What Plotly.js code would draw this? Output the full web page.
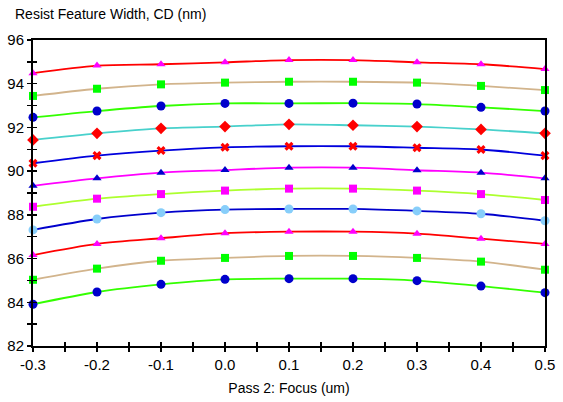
<!DOCTYPE html>
<html>
<head>
<meta charset="utf-8">
<script src="https://cdn.plot.ly/plotly-3.0.1.min.js"></script>
<style>html,body{margin:0;padding:0;background:#fff;}#chart{width:563px;height:402px;}</style>
</head>
<body>
<div id="chart"></div>
<script>
var focus = [-0.3, -0.2, -0.1, 0.0, 0.1, 0.2, 0.3, 0.4, 0.5];

var cd1  = [94.48, 94.83, 94.89, 94.98, 95.08, 95.08, 94.98, 94.89, 94.67];
var cd2  = [93.44, 93.77, 93.97, 94.05, 94.09, 94.09, 94.05, 93.90, 93.71];
var cd3  = [92.46, 92.75, 92.98, 93.10, 93.10, 93.11, 93.07, 92.92, 92.75];
var cd4  = [91.43, 91.73, 91.96, 92.04, 92.14, 92.10, 92.04, 91.91, 91.73];
var cd5  = [90.36, 90.71, 90.94, 91.09, 91.14, 91.14, 91.07, 90.99, 90.71];
var cd6  = [89.33, 89.67, 89.93, 90.05, 90.16, 90.16, 90.04, 89.93, 89.67];
var cd7  = [88.37, 88.74, 88.95, 89.11, 89.20, 89.20, 89.11, 88.95, 88.68];
var cd8  = [87.31, 87.81, 88.10, 88.24, 88.27, 88.27, 88.18, 88.05, 87.73];
var cd9  = [86.16, 86.67, 86.93, 87.16, 87.23, 87.23, 87.14, 86.91, 86.67];
var cd10 = [85.03, 85.54, 85.90, 86.03, 86.12, 86.12, 86.03, 85.86, 85.49];
var cd11 = [83.91, 84.47, 84.82, 85.05, 85.08, 85.08, 84.99, 84.74, 84.44];

var series = [cd1, cd2, cd3, cd4, cd5, cd6, cd7, cd8, cd9, cd10, cd11];
var lineColors = ['#ff0000', '#d2b48c', '#33ff00', '#48d1cc', '#0000dd', '#ff00ff', '#adff2f', '#0000cc', '#ff0000', '#d2b48c', '#33ff00'];
var markerColors = ['#ff00ff', '#00ff00', '#0000cc', '#ff0000', '#ff0000', '#0000cc', '#ff00ff', '#87cefa', '#ff00ff', '#00ff00', '#0000cc'];
var markerSymbols = ['triangle-up', 'square', 'circle', 'diamond', 'x', 'triangle-up', 'square', 'circle', 'triangle-up', 'square', 'circle'];
var markerSizes = [8, 8, 9, 9, 8, 8, 8, 9, 8, 8, 9];

var yTickVals = [82, 83, 84, 85, 86, 87, 88, 89, 90, 91, 92, 93, 94, 95, 96];
var yTickText = ['82', '', '84', '', '86', '', '88', '', '90', '', '92', '', '94', '', '96'];
var xTickVals = [-0.3, -0.25, -0.2, -0.15, -0.1, -0.05, 0.0, 0.05, 0.1, 0.15, 0.2, 0.25, 0.3, 0.35, 0.4, 0.45, 0.5];
var xTickText = ['-0.3', '', '-0.2', '', '-0.1', '', '0.0', '', '0.1', '', '0.2', '', '0.3', '', '0.4', '', '0.5'];

var traces = [];
series.forEach(function (s, i) {
  traces.push({
    x: focus, y: s, type: 'scatter', mode: 'lines',
    line: {color: lineColors[i], width: 1.8, shape: 'spline', smoothing: 0.8},
    hoverinfo: 'skip', showlegend: false, cliponaxis: false
  });
});
series.forEach(function (s, i) {
  traces.push({
    x: focus, y: s, type: 'scatter', mode: 'markers',
    marker: {color: markerColors[i], symbol: markerSymbols[i], size: markerSizes[i], line: {width: 0}},
    showlegend: false, cliponaxis: false
  });
});
// invisible trace to create overlay axes for crossing ticks
traces.push({x: [0], y: [89], xaxis: 'x2', yaxis: 'y2', mode: 'markers', marker: {opacity: 0}, hoverinfo: 'skip', showlegend: false});

var font = {family: 'Liberation Sans, Arial, sans-serif', color: '#000'};

var layout = {
  width: 563, height: 402,
  margin: {l: 33, r: 18, t: 40, b: 56},
  paper_bgcolor: '#fff', plot_bgcolor: '#fff',
  font: {family: font.family, size: 15, color: '#000'},
  showlegend: false,
  xaxis: {
    range: [-0.3, 0.5], showgrid: false, zeroline: false,
    showline: true, linecolor: '#000', linewidth: 2, mirror: true,
    ticks: 'outside', ticklen: 4, tickwidth: 1.5, tickcolor: '#000',
    tickvals: xTickVals, ticktext: xTickText,
    tickfont: {family: font.family, size: 15, color: '#000'},
    title: {text: 'Pass 2: Focus (um)', font: {family: font.family, size: 14, color: '#000'}, standoff: 11}
  },
  yaxis: {
    range: [82, 96], showgrid: false, zeroline: false,
    showline: true, linecolor: '#000', linewidth: 2, mirror: true,
    ticks: 'outside', ticklen: 4, tickwidth: 1.5, tickcolor: '#000',
    tickvals: yTickVals, ticktext: yTickText,
    tickfont: {family: font.family, size: 15, color: '#000'}
  },
  xaxis2: {
    overlaying: 'x', anchor: 'y2', side: 'bottom', range: [-0.3, 0.5],
    showgrid: false, zeroline: false, showline: false,
    ticks: 'inside', ticklen: 4, tickwidth: 1.5, tickcolor: '#000',
    tickvals: xTickVals, showticklabels: false
  },
  yaxis2: {
    overlaying: 'y', anchor: 'x2', side: 'left', range: [82, 96],
    showgrid: false, zeroline: false, showline: false,
    ticks: 'inside', ticklen: 4, tickwidth: 1.5, tickcolor: '#000',
    tickvals: yTickVals, showticklabels: false
  },
  annotations: [{
    text: 'Resist Feature Width, CD (nm)', xref: 'paper', yref: 'paper',
    x: 0, y: 1, xanchor: 'left', yanchor: 'bottom', xshift: -20, yshift: 16,
    showarrow: false, font: {family: font.family, size: 14, color: '#000'}
  }]
};

Plotly.newPlot('chart', traces, layout, {displayModeBar: false, staticPlot: true});
</script>
</body>
</html>
